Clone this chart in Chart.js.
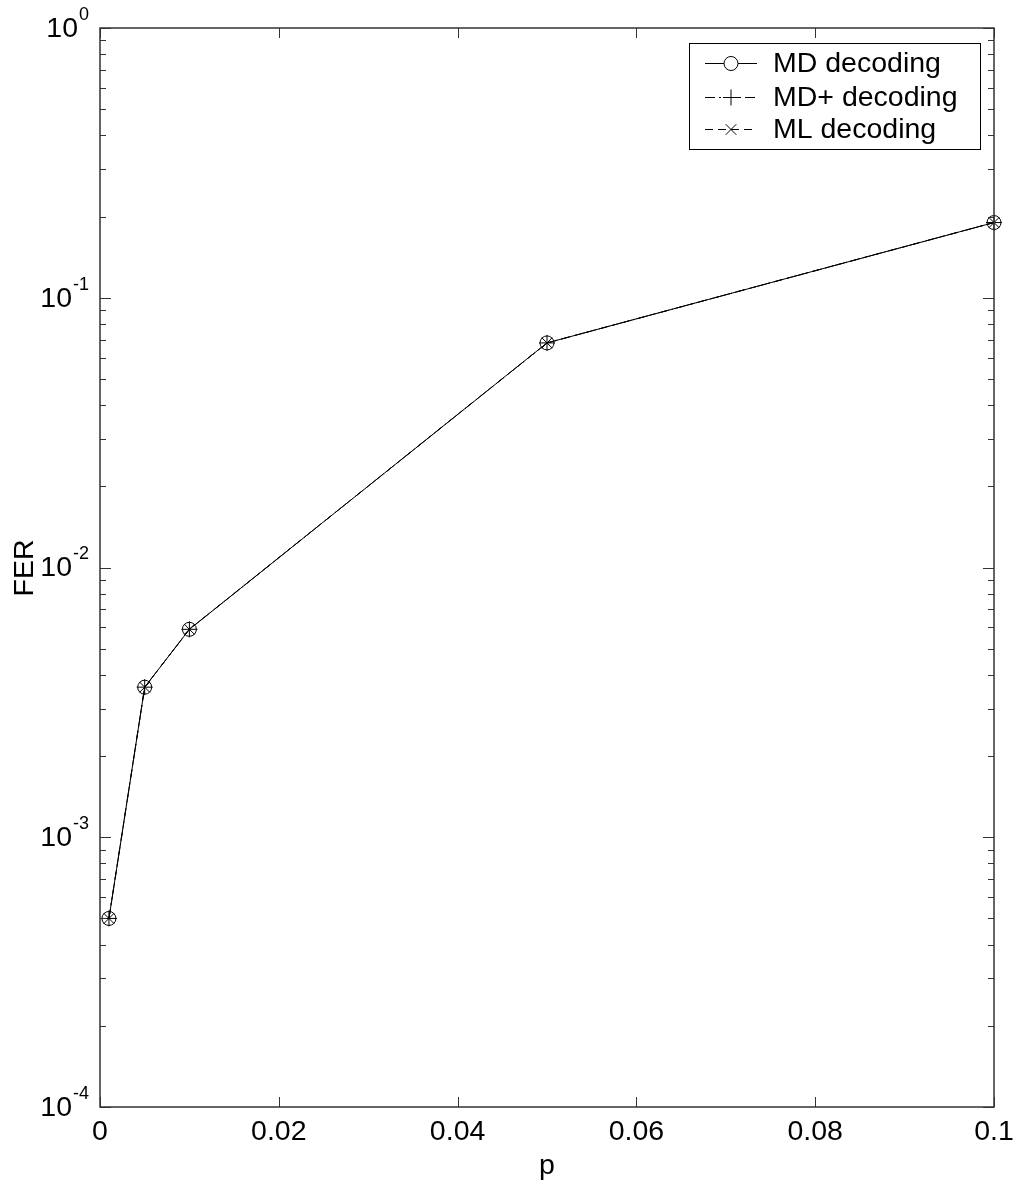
<!DOCTYPE html>
<html>
<head>
<meta charset="utf-8">
<script src="https://cdn.jsdelivr.net/npm/chart.js@4/dist/chart.umd.min.js"></script>
<style>
  html, body { margin: 0; padding: 0; background: #fff; }
  #wrap { width: 1016px; height: 1189px; }
</style>
</head>
<body>
<div id="wrap"><canvas id="ferChart" width="1016" height="1189"></canvas></div>
<script>
// data
const pValues = [0.001, 0.005, 0.01, 0.05, 0.1];
const mdFER = [5.0e-4, 3.6e-3, 5.9e-3, 6.8e-2, 0.19];
const mdPlusFER = [5.0e-4, 3.6e-3, 5.9e-3, 6.8e-2, 0.19];
const mlFER = [5.0e-4, 3.6e-3, 5.9e-3, 6.8e-2, 0.19];
const seriesNames = ['MD decoding', 'MD+ decoding', 'ML decoding'];
const xTicks = [0, 0.02, 0.04, 0.06, 0.08, 0.1];
const xTickLabels = ['0', '0.02', '0.04', '0.06', '0.08', '0.1'];
const yExponents = [-4, -3, -2, -1, 0];

const FONT = '"Liberation Sans", Arial, sans-serif';
const AXIS_COLOR = '#333';

const toPoints = (ys) => pValues.map((x, i) => ({ x: x, y: ys[i] }));

// axes box, ticks, labels and legend drawn MATLAB-style
const matlabAxes = {
    id: 'matlabAxes',
    afterDraw(chart) {
        const ctx = chart.ctx;
        const a = chart.chartArea;
        const xs = chart.scales.x, ys = chart.scales.y;
        ctx.save();

        ctx.strokeStyle = AXIS_COLOR;
        ctx.lineWidth = 1.5;
        ctx.strokeRect(a.left, a.top, a.right - a.left, a.bottom - a.top);

        ctx.lineWidth = 1;
        ctx.beginPath();
        // x ticks, bottom and top, pointing in
        xTicks.forEach(v => {
            const px = Math.round(xs.getPixelForValue(v)) + 0.5;
            ctx.moveTo(px, a.bottom); ctx.lineTo(px, a.bottom - 10);
            ctx.moveTo(px, a.top); ctx.lineTo(px, a.top + 10);
        });
        // y ticks, major and minor, left and right
        yExponents.forEach(e => {
            for (let m = 1; m <= 9; m++) {
                const v = m * Math.pow(10, e);
                if (v > 1.0000001) break;
                const py = Math.round(ys.getPixelForValue(v)) + 0.5;
                const len = m === 1 ? 11 : 6;
                ctx.moveTo(a.left, py); ctx.lineTo(a.left + len, py);
                ctx.moveTo(a.right, py); ctx.lineTo(a.right - len, py);
            }
        });
        ctx.stroke();

        ctx.fillStyle = '#000';
        // x tick labels
        ctx.font = '28.5px ' + FONT;
        ctx.textAlign = 'center';
        ctx.textBaseline = 'middle';
        xTicks.forEach((v, i) => {
            ctx.fillText(xTickLabels[i], xs.getPixelForValue(v), a.bottom + 25);
        });

        // y tick labels 10^e
        yExponents.forEach(e => {
            const py = ys.getPixelForValue(Math.pow(10, e));
            ctx.font = '18px ' + FONT;
            const expTxt = String(e);
            const ew = ctx.measureText(expTxt).width;
            const right = 89;
            ctx.textAlign = 'left';
            ctx.textBaseline = 'middle';
            ctx.fillText(expTxt, right - ew, py - 13);
            ctx.font = '28.5px ' + FONT;
            ctx.textAlign = 'right';
            ctx.fillText('10', right - ew - 1, py + 1);
        });

        // axis titles
        ctx.font = '28.5px ' + FONT;
        ctx.textAlign = 'center';
        ctx.textBaseline = 'alphabetic';
        ctx.fillText('p', (a.left + a.right) / 2, 1174);
        ctx.save();
        ctx.translate(33, 568);
        ctx.rotate(-Math.PI / 2);
        ctx.fillText('FER', 0, 0);
        ctx.restore();

        // legend
        const box = { x: 689, y: 43, w: 291, h: 106 };
        ctx.fillStyle = '#fff';
        ctx.fillRect(box.x, box.y, box.w, box.h);
        ctx.strokeStyle = '#000';
        ctx.lineWidth = 1;
        ctx.strokeRect(box.x + 0.5, box.y + 0.5, box.w, box.h);
        const rowY = [63, 97, 129];
        chart.data.datasets.forEach((ds, i) => {
            const y = rowY[i] + 0.5;
            ctx.strokeStyle = '#000';
            ctx.lineWidth = 1;
            ctx.setLineDash(ds.borderDash || []);
            ctx.beginPath();
            ctx.moveTo(705, y); ctx.lineTo(757, y);
            ctx.stroke();
            ctx.setLineDash([]);
            Chart.helpers.drawPoint(ctx, {
                pointStyle: ds.pointStyle, radius: ds.pointRadius,
                borderWidth: 1, rotation: 0
            }, 731, y);
            ctx.fillStyle = '#000';
            ctx.font = '28.5px ' + FONT;
            ctx.textAlign = 'left';
            ctx.textBaseline = 'middle';
            ctx.fillText(ds.label, 773, rowY[i] + 1);
        });
        ctx.restore();
    }
};

const common = {
    borderColor: '#000',
    borderWidth: 1,
    pointBorderColor: '#000',
    pointBackgroundColor: 'rgba(0,0,0,0)',
    pointBorderWidth: 1,
    pointRadius: 7,
    showLine: true,
    clip: false,
    tension: 0
};

new Chart(document.getElementById('ferChart'), {
    type: 'scatter',
    data: {
        datasets: [
            Object.assign({}, common, { label: seriesNames[0], data: toPoints(mdFER), pointStyle: 'circle' }),
            Object.assign({}, common, { label: seriesNames[1], data: toPoints(mdPlusFER), pointStyle: 'cross', pointRadius: 8, borderDash: [10, 4, 2, 4] }),
            Object.assign({}, common, { label: seriesNames[2], data: toPoints(mlFER), pointStyle: 'crossRot', pointRadius: 7.5, borderDash: [8, 5] })
        ]
    },
    options: {
        responsive: false,
        animation: false,
        layout: { padding: { left: 100, right: 22, top: 28, bottom: 82 } },
        plugins: { legend: { display: false }, tooltip: { enabled: false } },
        scales: {
            x: { type: 'linear', min: 0, max: 0.1, display: false },
            y: { type: 'logarithmic', min: 1e-4, max: 1, display: false }
        }
    },
    plugins: [matlabAxes]
});
</script>
</body>
</html>
